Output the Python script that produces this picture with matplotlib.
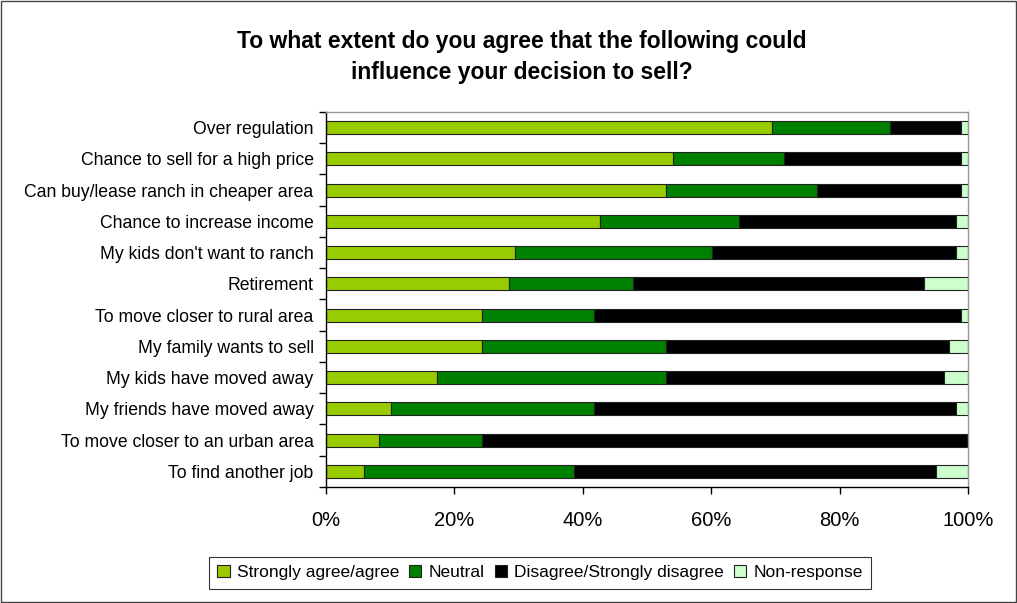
import numpy as np
import matplotlib.pyplot as plt
from matplotlib.patches import Rectangle

plt.rcParams['font.family'] = ['Liberation Sans', 'DejaVu Sans']

categories = [
    "Over regulation",
    "Chance to sell for a high price",
    "Can buy/lease ranch in cheaper area",
    "Chance to increase income",
    "My kids don't want to ranch",
    "Retirement",
    "To move closer to rural area",
    "My family wants to sell",
    "My kids have moved away",
    "My friends have moved away",
    "To move closer to an urban area",
    "To find another job",
]

# percentages per response group
agree = [69.4, 54.1, 53.0, 42.6, 29.5, 28.5, 24.3, 24.3, 17.3, 10.1, 8.2, 5.9]
neutral = [18.4, 17.3, 23.5, 21.7, 30.6, 19.3, 17.4, 28.6, 35.6, 31.6, 16.1, 32.7]
disagree = [11.1, 27.5, 22.4, 33.9, 38.1, 45.3, 57.2, 44.1, 43.3, 56.5, 75.7, 56.4]
nonresp = [1.1, 1.1, 1.1, 1.8, 1.8, 6.9, 1.1, 3.0, 3.8, 1.8, 0.0, 5.0]

series = [
    ("Strongly agree/agree", agree, "#99CC00"),
    ("Neutral", neutral, "#008000"),
    ("Disagree/Strongly disagree", disagree, "#000000"),
    ("Non-response", nonresp, "#CCFFCC"),
]

fig = plt.figure(figsize=(10.17, 6.03), dpi=100)
ax = fig.add_axes([0.3206, 0.1924, 0.6312, 0.6219])

y = np.arange(len(categories))
left = np.zeros(len(categories))
for name, vals, col in series:
    vals = np.array(vals) / 100.0
    ax.barh(y, vals, left=left, height=0.42, color=col, edgecolor="#222222",
            linewidth=0.8, label=name)
    left += vals

ax.set_xlim(0, 1)
ax.set_ylim(len(categories) - 0.5, -0.5)

ax.set_xticks(np.linspace(0, 1, 6))
ax.set_xticklabels([f"{int(v)}%" for v in np.linspace(0, 100, 6)], fontsize=14.5)
ax.set_yticks(y)
ax.set_yticklabels(categories, fontsize=12.7)
ax.tick_params(axis='y', length=0, pad=9)
ax.set_yticks(np.arange(-0.5, len(categories), 1.0), minor=True)
ax.tick_params(axis='y', which='minor', length=5, width=1, color='black')
ax.tick_params(axis='x', length=5, width=1, direction='out', pad=12)

for side in ['top', 'right']:
    ax.spines[side].set_color('#999999')
    ax.spines[side].set_linewidth(1)
for side in ['left', 'bottom']:
    ax.spines[side].set_color('black')
    ax.spines[side].set_linewidth(1)

fig.text(0.513, 0.905, "To what extent do you agree that the following could\ninfluence your decision to sell?",
         ha='center', va='center', fontsize=16.5, fontweight='bold', linespacing=1.45)

leg = fig.legend(loc='center', bbox_to_anchor=(0.531, 0.05), ncol=4, fontsize=12.5,
                 frameon=True, fancybox=False, edgecolor='black', handlelength=0.7,
                 handleheight=0.7, handletextpad=0.4, columnspacing=0.6,
                 borderpad=0.5)
leg.get_frame().set_linewidth(0.8)

# outer chart border
fig.patches.append(Rectangle((0.001, 0.001), 0.998, 0.998, transform=fig.transFigure,
                             fill=False, edgecolor='#444444', linewidth=1))

fig.savefig("out.png", dpi=100)
